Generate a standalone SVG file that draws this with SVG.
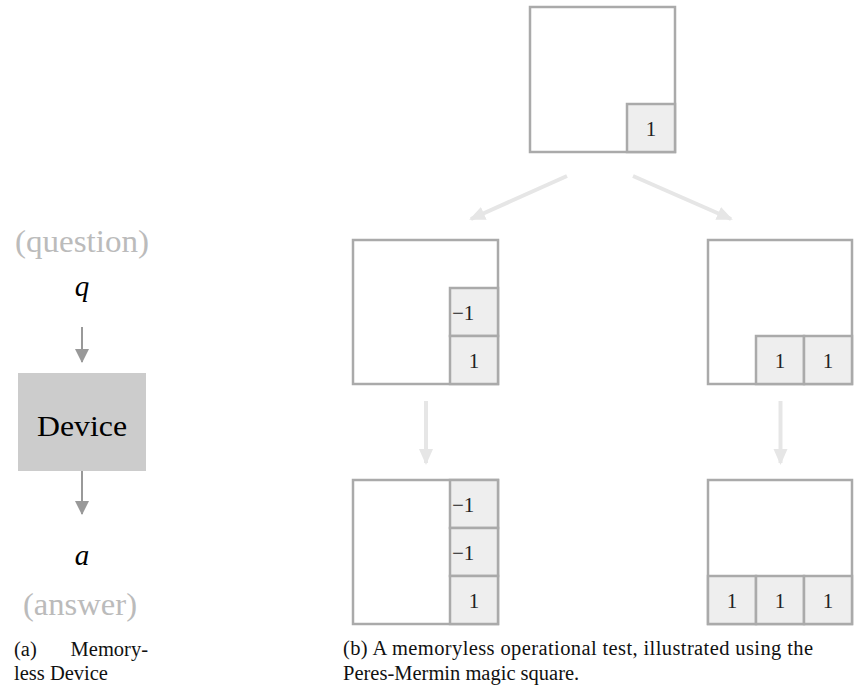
<svg xmlns="http://www.w3.org/2000/svg" width="857" height="686" viewBox="0 0 857 686">
<defs>
<style>
.box{fill:#fff;stroke:#aaa;stroke-width:2.5}
.cell{fill:#eee;stroke:#aaa;stroke-width:2.5}
.num{font-family:"Liberation Serif",serif;font-size:21px;fill:#222}
.cap{font-family:"Liberation Serif",serif;font-size:20.5px;fill:#111}
.big{font-family:"Liberation Serif",serif}
.light{stroke:#e6e6e6;stroke-width:4;fill:none}
.dark{stroke:#999;stroke-width:2;fill:none}
</style>
<marker id="ahL" markerWidth="16" markerHeight="16" refX="14" refY="7" orient="auto" markerUnits="userSpaceOnUse" viewBox="0 0 16 14">
<path d="M0,0 L16,7 L0,14 Z" fill="#e6e6e6"/>
</marker>
<marker id="ahD" markerWidth="14" markerHeight="14" refX="13" refY="7" orient="auto" markerUnits="userSpaceOnUse" viewBox="0 0 14 14">
<path d="M0,0 L14,7 L0,14 Z" fill="#999"/>
</marker>
</defs>
<rect width="857" height="686" fill="#fff"/>

<g id="connectors">
<line class="dark" x1="82" y1="327" x2="82" y2="362" marker-end="url(#ahD)"/>
<line class="dark" x1="82" y1="471" x2="82" y2="514" marker-end="url(#ahD)"/>
<line class="light" x1="567" y1="176" x2="471" y2="219" marker-end="url(#ahL)"/>
<line class="light" x1="633" y1="176" x2="731" y2="219" marker-end="url(#ahL)"/>
<line class="light" x1="426" y1="401" x2="426" y2="463" marker-end="url(#ahL)"/>
<line class="light" x1="780.5" y1="401" x2="780.5" y2="463" marker-end="url(#ahL)"/>
</g>

<g id="question">
<text class="big" x="82" y="252" font-size="31" fill="#bbb" text-anchor="middle" textLength="134" lengthAdjust="spacingAndGlyphs">(question)</text>
<text class="big" x="82" y="296" font-size="29" font-style="italic" fill="#000" text-anchor="middle">q</text>
</g>

<g id="device">
<rect x="18" y="373" width="128" height="98" fill="#ccc"/>
<text class="big" x="82" y="436" font-size="30" fill="#000" text-anchor="middle" textLength="90" lengthAdjust="spacingAndGlyphs">Device</text>
</g>

<g id="answer">
<text class="big" x="82" y="565" font-size="29" font-style="italic" fill="#000" text-anchor="middle">a</text>
<text class="big" x="80" y="615" font-size="31" fill="#bbb" text-anchor="middle" textLength="114" lengthAdjust="spacingAndGlyphs">(answer)</text>
</g>

<g id="caption-a">
<text class="cap" x="14" y="656">(a)</text>
<text class="cap" x="148" y="656" text-anchor="end">Memory-</text>
<text class="cap" x="14" y="680">less Device</text>
</g>

<g id="state-top">
<rect class="box" x="530" y="7" width="145" height="145"/>
<rect class="cell" x="627" y="104" width="48" height="48"/>
<text class="num" x="651" y="136" text-anchor="middle">1</text>
</g>

<g id="state-mid-left">
<rect class="box" x="353" y="240" width="145" height="144"/>
<rect class="cell" x="450" y="288" width="48" height="48"/>
<rect class="cell" x="450" y="336" width="48" height="48"/>
<text class="num" x="452" y="320">−1</text>
<text class="num" x="474" y="368" text-anchor="middle">1</text>
</g>

<g id="state-mid-right">
<rect class="box" x="708" y="240" width="144" height="144"/>
<rect class="cell" x="756" y="336" width="48" height="48"/>
<rect class="cell" x="804" y="336" width="48" height="48"/>
<text class="num" x="780" y="368" text-anchor="middle">1</text>
<text class="num" x="828" y="368" text-anchor="middle">1</text>
</g>

<g id="state-bottom-left">
<rect class="box" x="353" y="480" width="145" height="144"/>
<rect class="cell" x="450" y="480" width="48" height="48"/>
<rect class="cell" x="450" y="528" width="48" height="48"/>
<rect class="cell" x="450" y="576" width="48" height="48"/>
<text class="num" x="452" y="512">−1</text>
<text class="num" x="452" y="560">−1</text>
<text class="num" x="474" y="608" text-anchor="middle">1</text>
</g>

<g id="state-bottom-right">
<rect class="box" x="708" y="480" width="144" height="144"/>
<rect class="cell" x="708" y="576" width="48" height="48"/>
<rect class="cell" x="756" y="576" width="48" height="48"/>
<rect class="cell" x="804" y="576" width="48" height="48"/>
<text class="num" x="732" y="608" text-anchor="middle">1</text>
<text class="num" x="780" y="608" text-anchor="middle">1</text>
<text class="num" x="828" y="608" text-anchor="middle">1</text>
</g>

<g id="caption-b">
<text class="cap" x="343" y="655" textLength="470" lengthAdjust="spacing">(b) A memoryless operational test, illustrated using the</text>
<text class="cap" x="343" y="680">Peres-Mermin magic square.</text>
</g>
</svg>
